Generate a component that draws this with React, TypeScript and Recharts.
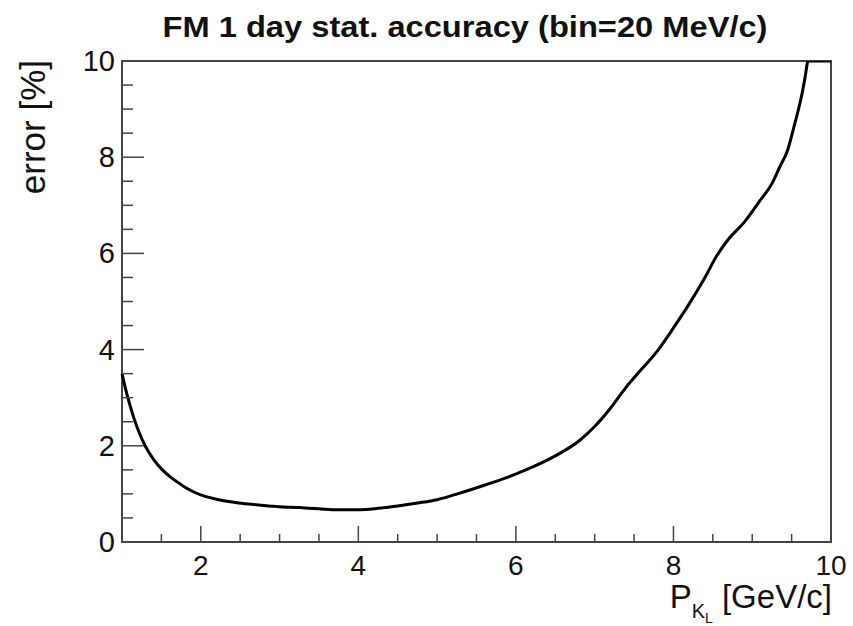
import { Line, LineChart, ReferenceArea, XAxis, YAxis } from "recharts";

const momentum = [
  1.0, 1.05, 1.1, 1.15, 1.2, 1.3, 1.4, 1.5, 1.6, 1.7, 1.8, 1.9, 2.0, 2.2, 2.4, 2.6, 2.8, 3.0, 3.25, 3.5,
  3.75, 4.0, 4.25, 4.5, 4.75, 5.0, 5.3, 5.6, 5.9, 6.2, 6.5, 6.8, 7.0, 7.2, 7.4, 7.6, 7.8, 8.0, 8.2, 8.4,
  8.55, 8.7, 8.9, 9.1, 9.25, 9.35, 9.45, 9.52, 9.58, 9.63, 9.67, 9.71, 10.0,
];
const errorPct = [
  3.5, 3.15, 2.85, 2.58, 2.35, 1.98, 1.72, 1.52, 1.37, 1.25, 1.14, 1.05, 0.98, 0.89, 0.83, 0.79, 0.76, 0.735, 0.715, 0.69,
  0.67, 0.67, 0.7, 0.75, 0.81, 0.88, 1.02, 1.18, 1.35, 1.55, 1.79, 2.1, 2.4, 2.78, 3.22, 3.6, 3.98, 4.45, 4.95, 5.5,
  5.95, 6.3, 6.65, 7.1, 7.45, 7.8, 8.15, 8.57, 8.95, 9.3, 9.65, 10.0, 10.0,
];

const xTicks = [1.5, 2, 2.5, 3, 3.5, 4, 4.5, 5, 5.5, 6, 6.5, 7, 7.5, 8, 8.5, 9, 9.5, 10];
const yTicks = [0, 0.5, 1, 1.5, 2, 2.5, 3, 3.5, 4, 4.5, 5, 5.5, 6, 6.5, 7, 7.5, 8, 8.5, 9, 9.5, 10];
const majorLabels = [0, 2, 4, 6, 8, 10];

const data = momentum.map((p, i) => ({ p, err: errorPct[i] }));

const ink = "#111";
const frame = "#444";
const font = "'Liberation Sans', Arial, Helvetica, sans-serif";

// ROOT style: ticks drawn inside the frame, labels only on even values
function XTick({ x, y, payload }: any) {
  const v = payload.value;
  const major = majorLabels.includes(v);
  return (
    <g>
      <line x1={x} y1={y} x2={x} y2={y - (major ? 16 : 8)} stroke={frame} strokeWidth={1.5} />
      {major && (
        <text x={x} y={y + 33} textAnchor="middle" fontSize={28} fill={ink} fontFamily={font}>
          {v}
        </text>
      )}
    </g>
  );
}

function YTick({ x, y, payload }: any) {
  const v = payload.value;
  const major = majorLabels.includes(v);
  return (
    <g>
      {v !== 0 && <line x1={x} y1={y} x2={x + (major ? 22 : 11)} y2={y} stroke={frame} strokeWidth={1.5} />}
      {major && (
        <text x={x - 7} y={y + 10} textAnchor="end" fontSize={29} fill={ink} fontFamily={font}>
          {v}
        </text>
      )}
    </g>
  );
}

export default function App() {
  return (
    <div style={{ position: "absolute", left: 0, top: 0, width: 853, height: 626, background: "#fff" }}>
      <LineChart width={853} height={626} data={data} margin={{ top: 61, right: 22, bottom: 44, left: 62 }}>
        <XAxis
          dataKey="p"
          type="number"
          domain={[1, 10]}
          ticks={xTicks}
          interval={0}
          height={40}
          tickSize={0}
          tickMargin={0}
          tickLine={false}
          axisLine={false}
          tick={(props: any) => <XTick {...props} />}
        />
        <YAxis
          type="number"
          domain={[0, 10]}
          ticks={yTicks}
          interval={0}
          width={60}
          tickSize={0}
          tickMargin={0}
          tickLine={false}
          axisLine={false}
          allowDataOverflow
          tick={(props: any) => <YTick {...props} />}
        />
        <ReferenceArea x1={1} x2={10} y1={0} y2={10} fill="none" stroke={frame} strokeWidth={2} />
        <Line
          dataKey="err"
          type="monotone"
          stroke="#000"
          strokeWidth={3}
          dot={false}
          isAnimationActive={false}
        />
        <text
          x={465}
          y={37}
          textAnchor="middle"
          fontSize={30}
          fontWeight="bold"
          fill={ink}
          fontFamily={font}
          textLength={605}
          lengthAdjust="spacingAndGlyphs"
        >
          FM 1 day stat. accuracy (bin=20 MeV/c)
        </text>
        <text
          transform="translate(45, 60) rotate(-90)"
          textAnchor="end"
          fontSize={35}
          fill={ink}
          fontFamily={font}
        >
          error [%]
        </text>
        <text x={832} y={608} textAnchor="end" fontSize={33} fill={ink} fontFamily={font}>
          <tspan>P</tspan>
          <tspan fontSize={20} dy={10}>K</tspan>
          <tspan fontSize={14} dy={5}>L</tspan>
          <tspan dy={-15}> [GeV/c]</tspan>
        </text>
      </LineChart>
    </div>
  );
}
